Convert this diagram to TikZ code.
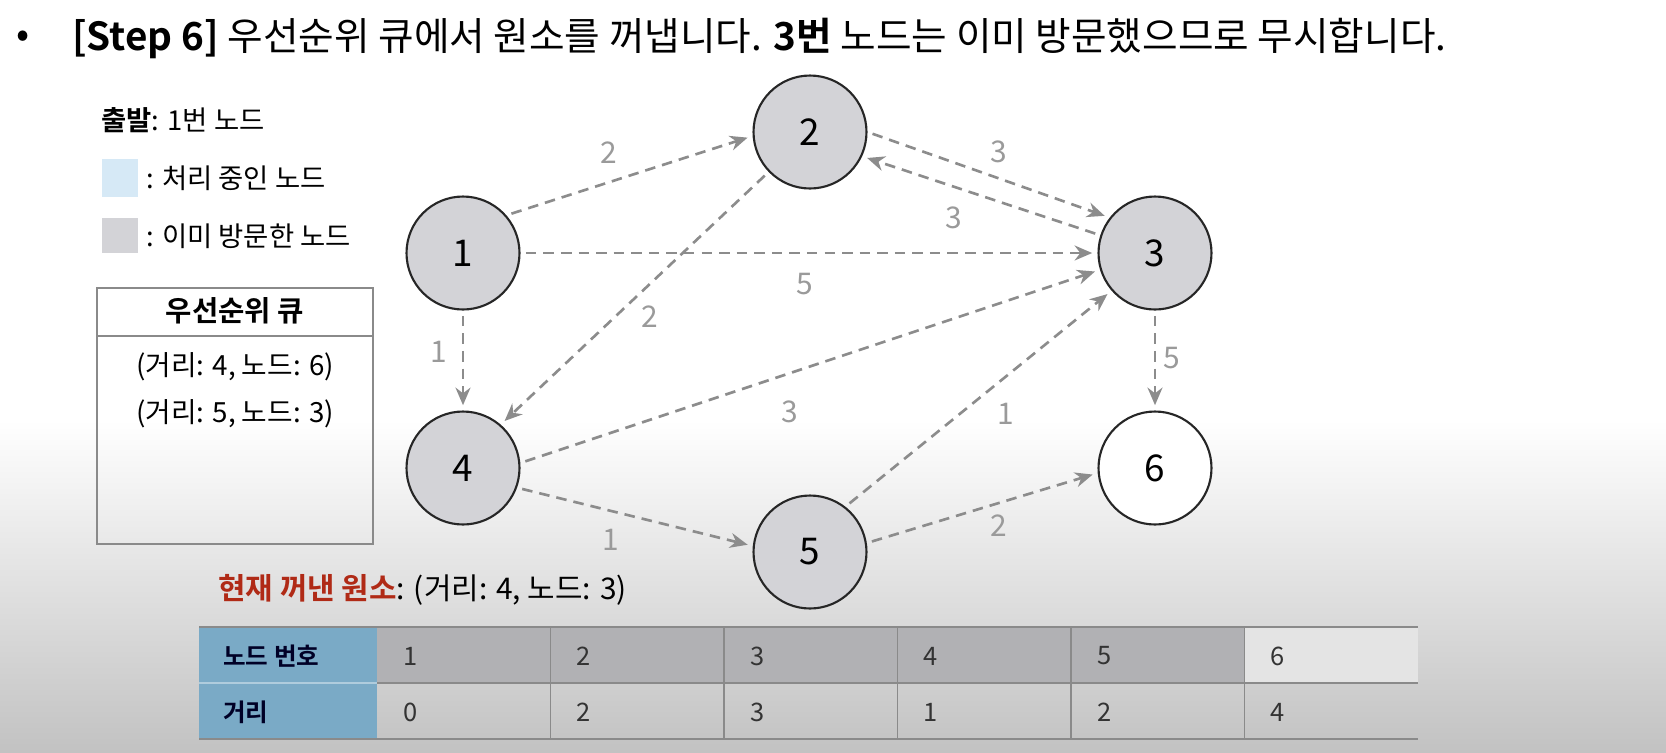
\documentclass[tikz,border=0pt]{standalone}
\usepackage{fontspec}
\setmainfont{Noto Sans CJK KR}[BoldFont={Noto Sans CJK KR Bold}]
\usetikzlibrary{arrows.meta}

\definecolor{nodegray}{HTML}{D3D3D7}
\definecolor{edgegray}{HTML}{8C8C8C}
\definecolor{labelgray}{HTML}{9A9A9A}
\definecolor{legendblue}{HTML}{D6E9F6}
\definecolor{headblue}{HTML}{7AAAC6}
\definecolor{cellgray}{HTML}{B1B1B4}
\definecolor{cellwhite}{HTML}{E4E4E4}
\definecolor{linegray}{HTML}{8A8A8A}
\definecolor{bggray}{HTML}{C2C2C2}
\definecolor{popred}{HTML}{B02A16}

\tikzset{
  vertex/.style={circle, draw=black!85, line width=1.2pt, fill=nodegray, minimum size=2.26cm, inner sep=0pt, font=\fontsize{21}{24}\selectfont},
  edge/.style={draw=edgegray, line width=1.5pt, dash pattern=on 6pt off 4pt, -{Stealth[length=10pt,width=8.5pt]}, shorten <=3pt, shorten >=3pt},
  weight/.style={text=labelgray, inner sep=0pt, font=\fontsize{17}{20}\selectfont},
  plaintxt/.style={anchor=west, inner sep=0pt, font=\fontsize{15.6}{18}\selectfont},
  celltxt/.style={anchor=west, inner sep=0pt, text=black!80, font=\fontsize{14.5}{17}\selectfont},
  grid/.style={draw=linegray, line width=0.9pt}
}

\begin{document}
\begin{tikzpicture}[x=0.02cm, y=-0.02cm]
	%%%%% START %%%%%
	\useasboundingbox (0, 0) rectangle (1666, 752);
	\fill[white] (0, 0) rectangle (1666, 421);
	\shade[top color=white, bottom color=bggray] (0, 420) rectangle (1666, 752);

	\node[inner sep=0pt, font=\fontsize{22}{26}\selectfont] (bullet) at (23, 39) {•};
	\node[anchor=west, inner sep=0pt, font=\fontsize{22}{26}\selectfont] (title) at (72, 38) {{\bfseries [Step 6]} 우선순위 큐에서 원소를 꺼냅니다. {\bfseries 3번} 노드는 이미 방문했으므로 무시합니다.};

	% legend
	\node[plaintxt] (start) at (101, 120) {{\bfseries 출발}: 1번 노드};
	\fill[legendblue] (102, 159) rectangle (138, 197);
	\node[plaintxt] (busy) at (146, 178) {: 처리 중인 노드};
	\fill[nodegray] (102, 218) rectangle (138, 253);
	\node[plaintxt] (seen) at (146, 236) {: 이미 방문한 노드};

	% priority queue
	\draw[draw=linegray, line width=1.3pt] (97, 288) rectangle (373, 544);
	\draw[draw=linegray, line width=1.3pt] (97, 336) -- (373, 336);
	\node[inner sep=0pt, font=\bfseries\fontsize{16.3}{19}\selectfont] (qhead) at (235, 311) {우선순위 큐};
	\node[inner sep=0pt, font=\fontsize{15.8}{18}\selectfont] (q1) at (235, 367) {(거리: 4, 노드: 6)};
	\node[inner sep=0pt, font=\fontsize{15.8}{18}\selectfont] (q2) at (235, 414) {(거리: 5, 노드: 3)};

	% graph
	\node[vertex] (n1) at (463, 253) {1};
	\node[vertex] (n2) at (810, 132) {2};
	\node[vertex] (n3) at (1155, 253) {3};
	\node[vertex] (n4) at (463, 468) {4};
	\node[vertex] (n5) at (810, 552) {5};
	\node[vertex, fill=white] (n6) at (1155, 468) {6};

	\draw[edge] (n1.41) -- (n2.184);
	\draw[edge] (n2.0) -- (n3.142);
	\draw[edge] (n3.162) -- (n2.-25);
	\draw[edge] (n1.east) -- (n3.west);
	\draw[edge] (n2.224) -- (n4.49);
	\draw[edge] (n1.south) -- (n4.north);
	\draw[edge] (n4.5) -- (n3.197);
	\draw[edge] (n3.south) -- (n6.north);
	\draw[edge] (n4.-20) -- (n5.174);
	\draw[edge] (n5.52) -- (n3.221);
	\draw[edge] (n5.9) -- (n6.185);

	\node[weight] (w12) at (609, 153) {2};
	\node[weight] (w23) at (999, 152) {3};
	\node[weight] (w32) at (954, 218) {3};
	\node[weight] (w13) at (805, 284) {5};
	\node[weight] (w24) at (650, 317) {2};
	\node[weight] (w14) at (439, 352) {1};
	\node[weight] (w43) at (790, 412) {3};
	\node[weight] (w36) at (1172, 358) {5};
	\node[weight] (w45) at (611, 540) {1};
	\node[weight] (w53) at (1006, 414) {1};
	\node[weight] (w56) at (999, 526) {2};

	% current element
	\node[anchor=west, inner sep=0pt, font=\fontsize{17}{20}\selectfont] (popped) at (218, 590) {{\bfseries\color{popred}현재 꺼낸 원소}: (거리: 4, 노드: 3)};

	% distance table
	\fill[headblue] (199, 627) rectangle (377, 683);
	\fill[headblue] (199, 684) rectangle (377, 739);
	\foreach \k in {1,...,5}
		\fill[cellgray] ({377+(\k-1)*173.5}, 627) rectangle ++(173.5, 56);
	\fill[cellwhite] (1244, 627) rectangle (1418, 683);
	\draw[grid] (199, 627) -- (1418, 627);
	\draw[grid] (377, 683) -- (1418, 683);
	\draw[draw=headblue!60!white, line width=0.9pt] (199, 683) -- (377, 683);
	\draw[grid] (199, 739) -- (1418, 739);
	\foreach \k in {2,...,6}
		\draw[grid] ({377+(\k-1)*173.5}, 627) -- ++(0, 112);
	\node[celltxt, text=black!85!blue, font=\bfseries\fontsize{14}{17}\selectfont] (hlabel) at (223, 656) {노드 번호};
	\node[celltxt, text=black!85!blue, font=\bfseries\fontsize{14}{17}\selectfont] (dlabel) at (223, 712) {거리};
	\foreach \k/\d in {1/0, 2/2, 3/3, 4/1, 5/2, 6/4} {
		\node[celltxt] (h\k) at ({377+(\k-1)*173.5+26}, 656) {\k};
		\node[celltxt] (d\k) at ({377+(\k-1)*173.5+26}, 712) {\d};
	}
	%%%%% END %%%%%
\end{tikzpicture}
\end{document}
